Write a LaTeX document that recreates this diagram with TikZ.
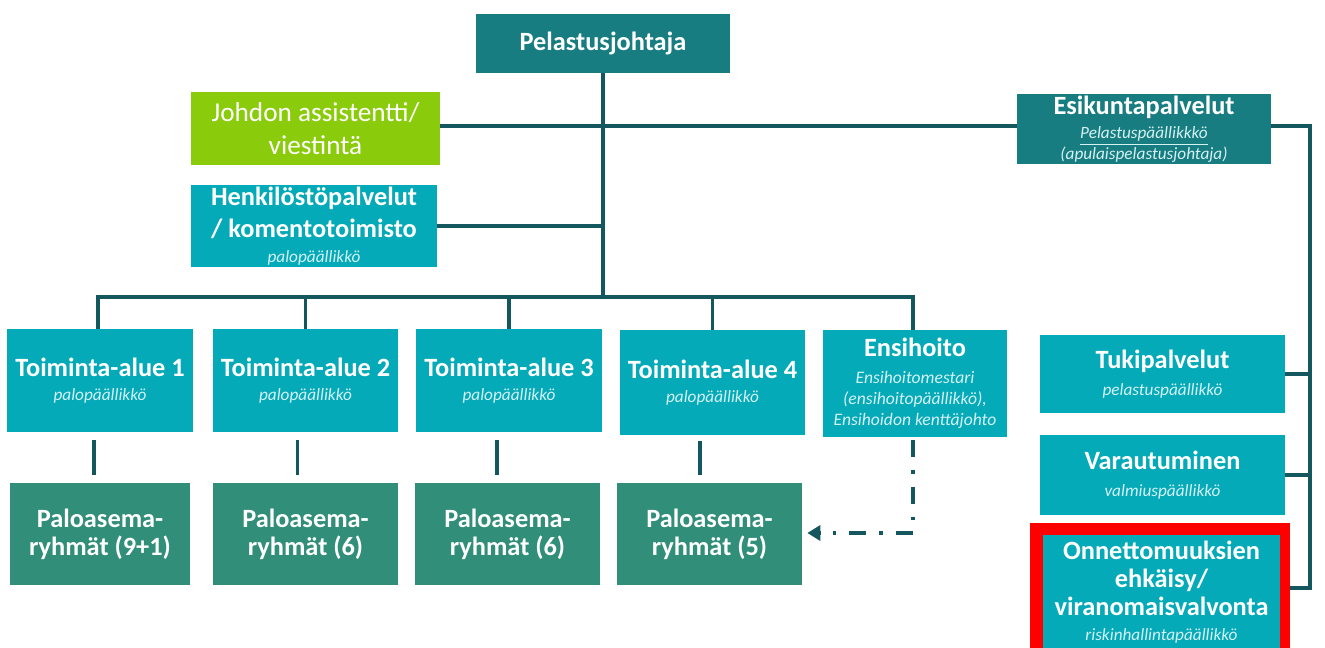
\documentclass[tikz,border=0pt]{standalone}
\usepackage{fontspec}
\setmainfont{Carlito}
\usetikzlibrary{arrows.meta,calc}

\definecolor{deepteal}{HTML}{177D80}
\definecolor{aqua}{HTML}{05AAB8}
\definecolor{stationgreen}{HTML}{318E79}
\definecolor{limegreen}{HTML}{8ACB0C}
\definecolor{linkcol}{HTML}{14575F}
\definecolor{subtext}{HTML}{D4F1F3}

\newcommand\boxtitle{\fontsize{15}{18.5}\selectfont\bfseries}
\newcommand\boxplain{\fontsize{15.5}{18.5}\selectfont}
\newcommand\boxsub{\fontsize{9.8}{11.5}\selectfont\mdseries\itshape\color{subtext}}
\newcommand\boxsubbig{\fontsize{10}{12}\selectfont\mdseries\itshape\color{subtext}}

\begin{document}
\begin{tikzpicture}[x=0.02cm,y=-0.02cm,
  unit/.style={rectangle, inner sep=0pt, align=center, text=white, font=\boxtitle},
  lead/.style={unit, fill=deepteal},
  dept/.style={unit, fill=aqua},
  station/.style={unit, fill=stationgreen},
  staff/.style={unit, fill=limegreen, font=\boxplain},
  link/.style={draw=linkcol, line width=1.8pt},
  relay/.style={draw=linkcol, line width=2.2pt,
    dash pattern=on 0.34cm off 0.26cm on 0.07cm off 0.26cm,
    -{Triangle[length=0.26cm,width=0.3cm]}}
]
\clip (0,0) rectangle (1325,648);
\fill[white] (0,0) rectangle (1325,648);

% top level
\node[lead, minimum width=5.08cm, minimum height=1.18cm] (pj) at (603,43.5)
  {Pelastusjohtaja};
\node[staff, minimum width=4.98cm, minimum height=1.46cm] (ja) at (315.5,128.5)
  {Johdon assistentti/\\ viestintä};
\node[dept, minimum width=4.92cm, minimum height=1.64cm] (hp) at (314,226)
  {Henkilöstöpalvelut\\ / komentotoimisto\\[-4.5pt] {\boxsub palopäällikkö}};
\node[lead, minimum width=5.08cm, minimum height=1.40cm] (ek) at (1144,129)
  {Esikuntapalvelut\\[-4.5pt] {\boxsub \underline{Pelastuspäällikkkö}}\\[-7pt] {\boxsub (apulaispelastusjohtaja)}};

% operational areas
\node[dept, minimum width=3.72cm, minimum height=2.06cm] (ta1) at (100,380.5)
  {Toiminta-alue 1\\[-4.5pt] {\boxsub palopäällikkö}};
\node[dept, minimum width=3.70cm, minimum height=2.06cm] (ta2) at (305.5,380.5)
  {Toiminta-alue 2\\[-4.5pt] {\boxsub palopäällikkö}};
\node[dept, minimum width=3.72cm, minimum height=2.06cm] (ta3) at (509,380.5)
  {Toiminta-alue 3\\[-4.5pt] {\boxsub palopäällikkö}};
\node[dept, minimum width=3.70cm, minimum height=2.10cm] (ta4) at (712.5,382.5)
  {Toiminta-alue 4\\[-4.5pt] {\boxsub palopäällikkö}};
\node[dept, minimum width=3.68cm, minimum height=2.14cm] (eh) at (915,383.5)
  {Ensihoito\\[-3pt] {\boxsubbig Ensihoitomestari}\\[-6.5pt] {\boxsubbig (ensihoitopäällikkö),}\\[-6.5pt] {\boxsubbig Ensihoidon kenttäjohto}};

% station groups
\node[station, minimum width=3.60cm, minimum height=2.04cm] (pa1) at (100,534)
  {Paloasema-\\[-2.5pt] ryhmät (9+1)};
\node[station, minimum width=3.70cm, minimum height=2.04cm] (pa2) at (305.5,534)
  {Paloasema-\\[-2.5pt] ryhmät (6)};
\node[station, minimum width=3.70cm, minimum height=2.04cm] (pa3) at (507.5,534)
  {Paloasema-\\[-2.5pt] ryhmät (6)};
\node[station, minimum width=3.70cm, minimum height=2.04cm] (pa4) at (709.5,534)
  {Paloasema-\\[-2.5pt] ryhmät (5)};

% staff services column
\node[dept, minimum width=4.90cm, minimum height=1.56cm] (tu) at (1162.5,374)
  {Tukipalvelut\\[-3.5pt] {\boxsub pelastuspäällikkö}};
\node[dept, minimum width=4.90cm, minimum height=1.60cm] (va) at (1162.5,475)
  {Varautuminen\\[-3.5pt] {\boxsub valmiuspäällikkö}};
\node[unit, fill=red, minimum width=5.20cm, minimum height=2.74cm] (onf) at (1160,591.5) {};
\node[dept, minimum width=4.74cm, minimum height=2.50cm, anchor=north] (on) at (1161.5,535)
  {};
\node[unit] (ont) at (1161.5,592)
  {Onnettomuuksien\\[-2.5pt] ehkäisy/\\[-2.5pt] viranomaisvalvonta\\[-4.5pt] {\boxsub riskinhallintapäällikkö}};

% connectors
\coordinate (bus) at (603,297);
\coordinate (rt) at (1310,126);
\coordinate (rb) at (1310,588);

\draw[link] (pj.south) -- (bus);
\draw[link] (ja.east |- 0,126) -- (ek.west |- 0,126);
\draw[link] (hp.east) -- (hp.east -| bus);
\draw[link] (ta1.north -| 98,0) |- (bus) -| (eh.north -| 913,0);
\draw[link] (ta2.north) -- (ta2.north |- bus);
\draw[link] (ta3.north) -- (ta3.north |- bus);
\draw[link] (ta4.north) -- (ta4.north |- bus);

\draw[link] (ek.east |- rt) -- (rt) -- (rb) -- (onf.east |- rb);
\draw[link] (tu.east) -- (tu.east -| rt);
\draw[link] (va.east) -- (va.east -| rt);

\draw[link, shorten <=0.16cm, shorten >=0.16cm] ([xshift=-0.12cm]ta1.south) -- ([xshift=-0.12cm]ta1.south |- pa1.north);
\draw[link, shorten <=0.16cm, shorten >=0.16cm] ([xshift=-0.16cm]ta2.south) -- ([xshift=-0.16cm]ta2.south |- pa2.north);
\draw[link, shorten <=0.16cm, shorten >=0.16cm] ([xshift=-0.24cm]ta3.south) -- ([xshift=-0.24cm]ta3.south |- pa3.north);
\draw[link, shorten <=0.12cm, shorten >=0.16cm] ([xshift=-0.25cm]ta4.south) -- ([xshift=-0.25cm]ta4.south |- pa4.north);

\draw[relay, shorten <=0.06cm, shorten >=0.1cm] ([xshift=-0.04cm]eh.south) |- (pa4.east |- 0,533);
\end{tikzpicture}
\end{document}
